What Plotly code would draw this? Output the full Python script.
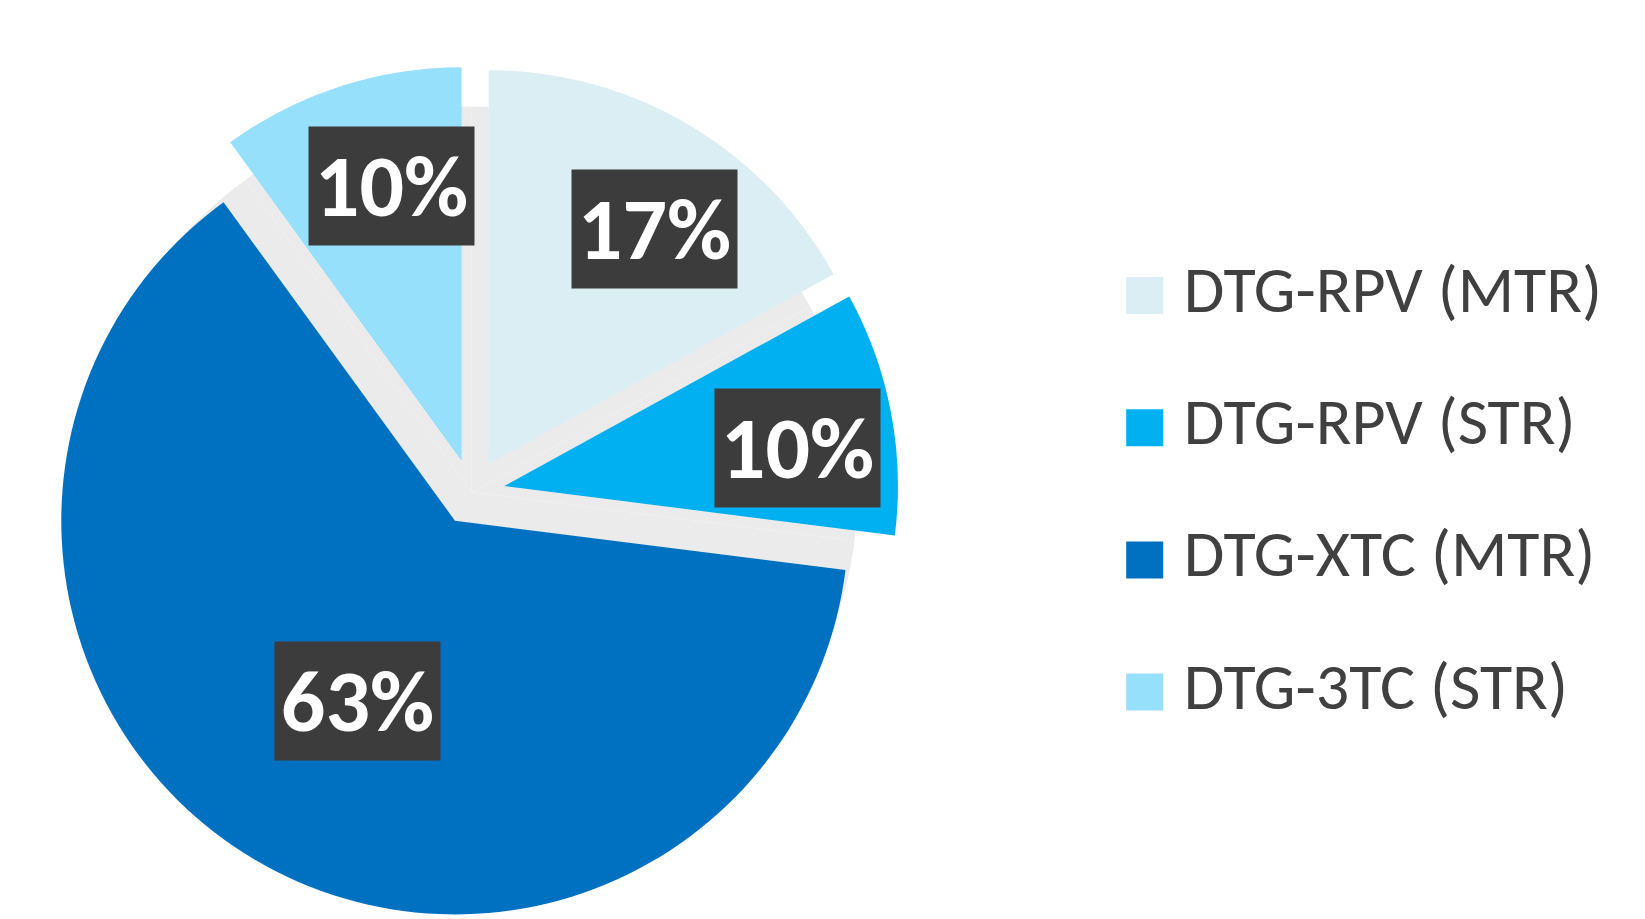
import math
import plotly.graph_objects as go

# ---------------- data ----------------
categories = ["DTG-RPV (MTR)", "DTG-RPV (STR)", "DTG-XTC (MTR)", "DTG-3TC (STR)"]
shares = [17, 10, 63, 10]
slice_colors = ["#DAEEF3", "#00B0F0", "#0070C0", "#96E0FC"]

# ---------------- style / layout ----------------
W, H = 1645, 919
PULL = 0.084
pie_dom_x = [0.0254, 0.5482]
pie_dom_y = [0.0, 0.9287]
label_frac = [0.73, 0.75, 0.52, 0.72]     # label distance from slice apex (fraction of radius)
label_shift = [4.6, 3.4, -2.2, 3.7]       # label angle offset from slice bisector (deg)
LABEL_FONT = "Carlito, Calibri, Lato, sans-serif"
LEGEND_FONT = "Carlito, Calibri, Lato, sans-serif"

# pie geometry as plotly computes it
box_w = W * (pie_dom_x[1] - pie_dom_x[0])
box_h = H * (pie_dom_y[1] - pie_dom_y[0])
r = min(box_w, box_h) / (2 * (1 + PULL))
cx = W * (pie_dom_x[0] + pie_dom_x[1]) / 2
cy = H * (1 - (pie_dom_y[0] + pie_dom_y[1]) / 2)

fig = go.Figure()

# light shadow disc showing through the gaps of the exploded slices
shadow_r = r * 0.98
fig.add_trace(go.Pie(
    values=shares, labels=categories, sort=False, direction="clockwise",
    marker=dict(colors=["#EBEBEB"] * len(shares), line=dict(width=0)),
    domain=dict(x=[(cx - shadow_r) / W, (cx + shadow_r) / W],
                y=[1 - (cy + shadow_r) / H, 1 - (cy - shadow_r) / H]),
    textinfo="none", hoverinfo="skip", showlegend=False,
))

fig.add_trace(go.Pie(
    values=shares, labels=categories, sort=False, direction="clockwise",
    rotation=0, pull=[PULL] * len(shares),
    marker=dict(colors=slice_colors, line=dict(width=0)),
    domain=dict(x=pie_dom_x, y=pie_dom_y),
    textinfo="none", showlegend=False,
))

# data labels in dark boxes
total = sum(shares)
cum = 0
annotations = []
for i, v in enumerate(shares):
    a0 = cum / total * 360
    cum += v
    a1 = cum / total * 360
    mid = math.radians((a0 + a1) / 2)
    sx = cx + PULL * r * math.sin(mid)
    sy = cy - PULL * r * math.cos(mid)
    la = mid + math.radians(label_shift[i])
    lx = sx + label_frac[i] * r * math.sin(la)
    ly = sy - label_frac[i] * r * math.cos(la)
    pct = round(v / total * 100)
    annotations.append(dict(
        x=lx / W, y=1 - ly / H, xref="paper", yref="paper",
        text=f"<b>{pct}%</b>", showarrow=False,
        xanchor="center", yanchor="middle",
        width=165, height=118, borderpad=0,
        bgcolor="#3C3C3C",
        font=dict(family=LABEL_FONT, size=88, color="white", weight="bold"),
    ))

# legend drawn as a square-marker scatter
idx = list(range(len(categories)))
fig.add_trace(go.Scatter(
    x=[0] * len(categories), y=idx, mode="markers+text",
    marker=dict(symbol="square", size=37, color=slice_colors, line=dict(width=0)),
    text=["\u00a0" + c for c in categories], textposition="middle right",
    textfont=dict(family=LEGEND_FONT, size=66, color="#404040"),
    cliponaxis=False, hoverinfo="skip", showlegend=False,
    xaxis="x", yaxis="y",
))

leg_x0_px = 0.6 * W
marker_px = 1144.7
unit_px = 37.0
x_lo = -(marker_px - leg_x0_px) / unit_px
x_hi = x_lo + (W - leg_x0_px) / unit_px
row_px = 132.2
first_row_px = 295.5
y_top_px = first_row_px - row_px / 2
y_bot_px = y_top_px + row_px * len(categories)

fig.update_layout(
    width=W, height=H,
    margin=dict(l=0, r=0, t=0, b=0),
    paper_bgcolor="white", plot_bgcolor="rgba(0,0,0,0)",
    showlegend=False,
    annotations=annotations,
    xaxis=dict(domain=[0.6, 1.0], range=[x_lo, x_hi], visible=False, fixedrange=True),
    yaxis=dict(domain=[1 - y_bot_px / H, 1 - y_top_px / H],
               range=[len(categories) - 0.5, -0.5], visible=False, fixedrange=True),
)

fig.write_html(
    "out.html",
    config={"displayModeBar": False},
    post_script="document.body.style.margin='0';document.body.style.overflow='hidden';",
)
